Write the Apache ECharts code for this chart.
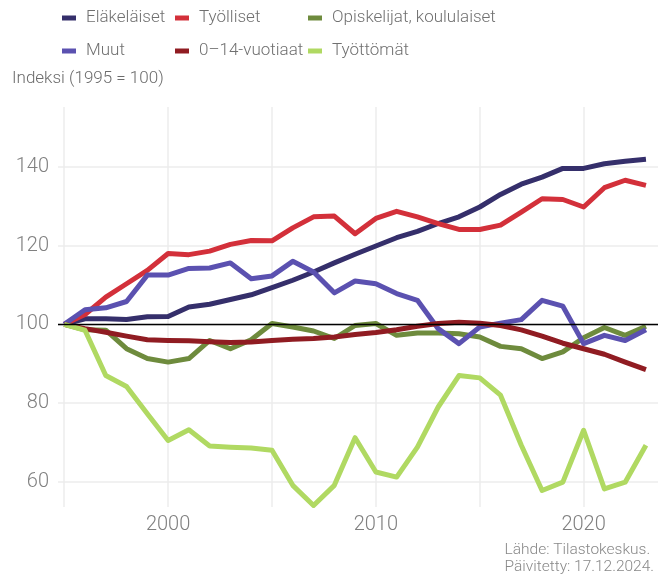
<!DOCTYPE html>
<html>
<head>
<meta charset="utf-8">
<script src="https://cdn.jsdelivr.net/npm/echarts@6/dist/echarts.min.js"></script>
<style>
  html, body { margin: 0; padding: 0; background: #fff; }
  #chart { width: 667px; height: 579px; }
</style>
</head>
<body>
<div id="chart"></div>
<script>
const years = [1995, 1996, 1997, 1998, 1999, 2000, 2001, 2002, 2003, 2004, 2005, 2006, 2007, 2008, 2009,
  2010, 2011, 2012, 2013, 2014, 2015, 2016, 2017, 2018, 2019, 2020, 2021, 2022, 2023];

const elakelaiset = [100, 101.4, 101.4, 101.2, 101.9, 102.0, 104.4, 105.1, 106.3, 107.5, 109.3, 111.2, 113.3, 115.6, 117.8,
  119.9, 122.0, 123.6, 125.6, 127.3, 129.8, 133.0, 135.6, 137.4, 139.6, 139.6, 140.8, 141.4, 141.9];
const tyolliset = [100, 102.5, 106.9, 110.3, 113.7, 118.0, 117.7, 118.6, 120.3, 121.3, 121.2, 124.5, 127.3, 127.5, 123.0,
  126.9, 128.7, 127.3, 125.6, 124.1, 124.1, 125.2, 128.5, 131.9, 131.7, 129.8, 134.7, 136.6, 135.3];
const opiskelijat = [100, 98.6, 98.5, 93.8, 91.3, 90.4, 91.3, 95.9, 93.8, 96.1, 100.2, 99.3, 98.3, 96.4, 99.7,
  100.2, 97.2, 97.8, 97.8, 97.6, 96.8, 94.4, 93.8, 91.3, 93.0, 96.6, 99.2, 97.2, 99.5];
const muut = [100, 103.7, 104.2, 105.8, 112.5, 112.5, 114.2, 114.3, 115.6, 111.6, 112.3, 116.0, 113.3, 108.0, 111.0,
  110.3, 107.8, 106.1, 98.9, 95.1, 99.3, 100.3, 101.2, 106.1, 104.6, 95.1, 97.2, 95.9, 98.6];
const vuotiaat = [100, 98.9, 98.0, 97.0, 96.1, 95.9, 95.8, 95.6, 95.4, 95.5, 95.9, 96.2, 96.4, 96.8, 97.4,
  97.9, 98.6, 99.5, 100.2, 100.5, 100.3, 99.7, 98.6, 97.0, 95.2, 93.8, 92.4, 90.4, 88.5];
const tyottomat = [100, 98.5, 87.0, 84.2, 77.3, 70.5, 73.2, 69.1, 68.8, 68.6, 68.0, 59.1, 54.0, 59.1, 71.2,
  62.5, 61.2, 68.8, 79.0, 87.0, 86.4, 82.0, 69.3, 57.8, 59.9, 73.1, 58.2, 59.9, 69.3];

const seriesNames = ['Eläkeläiset', 'Työlliset', 'Opiskelijat, koululaiset', 'Muut', '0–14-vuotiaat', 'Työttömät'];
const seriesValues = [elakelaiset, tyolliset, opiskelijat, muut, vuotiaat, tyottomat];
const colors = ['#352f6b', '#d3303a', '#6e8b3d', '#5b51b0', '#901c22', '#b0d962'];

const xTicks = [1995, 2000, 2005, 2010, 2015, 2020];
const xLabels = [2000, 2010, 2020];
const yTicks = [60, 80, 100, 120, 140];

const FONT = 'Roboto';
const chart = echarts.init(document.getElementById('chart'));

function legendCol(names, left) {
  return {
    data: names,
    orient: 'vertical',
    left: left,
    top: 8,
    padding: 0,
    itemGap: 13,
    itemWidth: 14,
    itemHeight: 5,
    icon: 'rect',
    selectedMode: false,
    textStyle: { fontFamily: FONT, fontSize: 17, fontWeight: 300, color: '#707070', lineHeight: 20, padding: [0, 0, 0, 5] }
  };
}

const series = seriesNames.map((name, i) => ({
  name: name,
  type: 'line',
  data: years.map((y, j) => [y, seriesValues[i][j]]),
  symbol: 'none',
  color: colors[i],
  lineStyle: { width: 5, color: colors[i], join: 'round' },
  z: 2 + i
}));

series[0].markLine = {
  silent: true,
  symbol: 'none',
  label: { show: false },
  lineStyle: { color: '#000', width: 1.3, type: 'solid' },
  data: [{ yAxis: 100 }],
  z: 20
};

chart.setOption({
  animation: false,
  textStyle: { fontFamily: FONT },
  title: {
    text: 'Indeksi (1995 = 100)',
    left: 12,
    top: 70,
    padding: 0,
    textStyle: { fontFamily: FONT, fontSize: 17, fontWeight: 300, color: '#6b6b6b' }
  },
  legend: [
    legendCol([seriesNames[0], seriesNames[3]], 62),
    legendCol([seriesNames[1], seriesNames[4]], 175),
    legendCol([seriesNames[2], seriesNames[5]], 308)
  ],
  grid: { left: 58, right: 9, top: 107, bottom: 72 },
  xAxis: {
    type: 'value',
    min: 1994.7,
    max: 2023.58,
    axisLine: { show: false },
    axisTick: { show: false, customValues: xTicks },
    axisLabel: {
      customValues: xLabels,
      formatter: v => String(v),
      fontFamily: FONT, fontSize: 20, fontWeight: 300, color: '#808080', margin: 8
    },
    splitLine: { show: true, lineStyle: { color: '#ececec', width: 1.5 } }
  },
  yAxis: {
    type: 'value',
    min: 53.6,
    max: 155.2,
    axisLine: { show: false },
    axisTick: { show: false, customValues: yTicks },
    axisLabel: {
      customValues: yTicks,
      formatter: v => String(v),
      fontFamily: FONT, fontSize: 20, fontWeight: 300, color: '#808080', margin: 9
    },
    splitLine: { show: true, lineStyle: { color: '#ececec', width: 1.5 } }
  },
  graphic: [{
    type: 'text',
    right: 13,
    top: 542,
    style: {
      text: 'Lähde: Tilastokeskus.\nPäivitetty: 17.12.2024.',
      fontFamily: FONT,
      fontSize: 15.5,
      fontWeight: 300,
      lineHeight: 16.5,
      fill: '#888',
      align: 'right'
    }
  }],
  series: series
});
</script>
</body>
</html>
